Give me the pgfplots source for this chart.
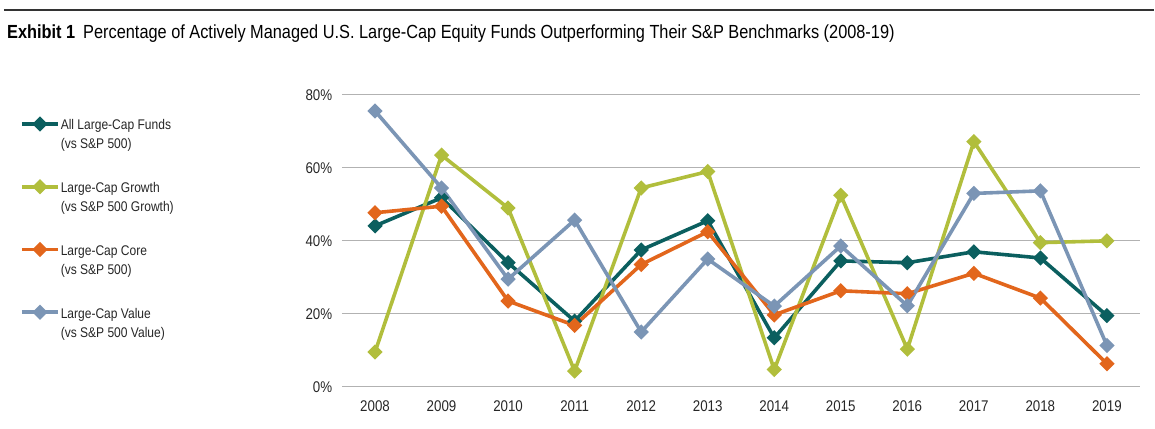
\documentclass[border=0pt]{standalone}
\usepackage{fontspec}
\setmainfont{Liberation Sans}[FakeStretch=0.86]
\usepackage{pgfplots}
\pgfplotsset{compat=1.18}

\definecolor{cAll}{HTML}{0B5F5F}
\definecolor{cGrowth}{HTML}{B1BE3C}
\definecolor{cCore}{HTML}{E2661C}
\definecolor{cValue}{HTML}{7B95B5}

\begin{document}
\begin{tikzpicture}
% page frame: 1155 x 429, axis origin at pixel (342,387)
\path (-342pt,-42pt) rectangle (813pt,387pt);
\draw[line width=1.6pt, black!80] (-338pt,377pt) -- (813pt,377pt);
\node[anchor=base west, inner sep=0pt, font=\fontsize{19}{22}\selectfont] at (-335pt,348pt)
  {\textbf{Exhibit 1}\hspace{8pt}Percentage of Actively Managed U.S. Large-Cap Equity Funds Outperforming Their S\&P Benchmarks (2008-19)};

\begin{axis}[
  scale only axis,
  width=799pt, height=292pt,
  xmin=2007.5, xmax=2019.5,
  ymin=0, ymax=80,
  xtick={2008,...,2019},
  ytick={0,20,...,80},
  /pgf/number format/1000 sep={},
  /pgf/number format/assume math mode=true,
  yticklabel={\pgfmathprintnumber{\tick}\%},
  ymajorgrids,
  grid style={black!30, line width=1pt},
  axis line style={draw=none},
  major tick length=0pt,
  tick label style={font=\fontsize{15.5}{18}\selectfont, black!85},
  y tick label style={xshift=-6pt},
  x tick label style={yshift=-10pt},
  every axis plot/.append style={line width=3.6pt, mark=square*, mark size=3.6pt,
    mark options={rotate=45, solid}},
  legend style={at={(-0.4030,0.93)}, anchor=north west, draw=none, fill=none,
    inner sep=0pt, row sep=46pt,
    nodes={font=\fontsize{14}{19}\selectfont, black!85, inner sep=1pt}},
  legend cell align=left,
  legend image code/.code={\draw[#1, mark repeat=2, mark phase=2]
    plot coordinates {(0pt,0pt) (18pt,0pt) (36pt,0pt)};},
]

\addplot[cAll] coordinates {
  (2008,44.1) (2009,51.8) (2010,34.0) (2011,18.0) (2012,37.5) (2013,45.5)
  (2014,13.4) (2015,34.5) (2016,34.0) (2017,37.0) (2018,35.3) (2019,19.5)
};
\addlegendentry{\begin{tabular}[t]{@{}l@{}}All Large-Cap Funds\\(vs S\&P 500)\end{tabular}}

\addplot[cGrowth] coordinates {
  (2008,9.5) (2009,63.5) (2010,49.0) (2011,4.3) (2012,54.5) (2013,59.0)
  (2014,4.7) (2015,52.5) (2016,10.3) (2017,67.2) (2018,39.5) (2019,40.0)
};
\addlegendentry{\begin{tabular}[t]{@{}l@{}}Large-Cap Growth\\(vs S\&P 500 Growth)\end{tabular}}

\addplot[cCore] coordinates {
  (2008,47.7) (2009,49.5) (2010,23.5) (2011,16.8) (2012,33.5) (2013,42.5)
  (2014,19.7) (2015,26.3) (2016,25.5) (2017,31.1) (2018,24.3) (2019,6.3)
};
\addlegendentry{\begin{tabular}[t]{@{}l@{}}Large-Cap Core\\(vs S\&P 500)\end{tabular}}

\addplot[cValue] coordinates {
  (2008,75.6) (2009,54.5) (2010,29.5) (2011,45.7) (2012,15.0) (2013,35.0)
  (2014,22.1) (2015,38.6) (2016,22.2) (2017,53.0) (2018,53.7) (2019,11.3)
};
\addlegendentry{\begin{tabular}[t]{@{}l@{}}Large-Cap Value\\(vs S\&P 500 Value)\end{tabular}}

\end{axis}
\end{tikzpicture}
\end{document}
